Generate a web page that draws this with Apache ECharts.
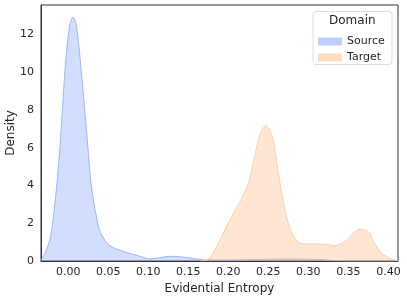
<!DOCTYPE html>
<html><head><meta charset="utf-8">
<script src="https://cdn.jsdelivr.net/npm/echarts@6/dist/echarts.min.js"></script>
<style>html,body{margin:0;padding:0;background:#fff}#c{width:407px;height:299px}</style>
</head><body><div id="c"></div>
<script>
const sourceX = [-0.034, -0.029, -0.023, -0.019, -0.0148, -0.0106, -0.0065, -0.003, 0.002, 0.006, 0.010, 0.015, 0.0228, 0.028, 0.0325, 0.035, 0.039, 0.0456, 0.052, 0.064, 0.081, 0.089, 0.102, 0.115, 0.127, 0.14, 0.152, 0.171, 0.2, 0.264, 0.314, 0.34, 0.41];
const sourceY = [0.05, 0.41, 1.11, 2.17, 3.76, 5.87, 8.5, 10.63, 12.5, 12.9, 12.5, 10.63, 6.93, 4.3, 2.95, 2.42, 1.64, 1.11, 0.81, 0.58, 0.35, 0.26, 0.12, 0.18, 0.25, 0.22, 0.16, 0.06, 0.05, 0.1, 0.08, 0.0, 0.0];
const targetX = [0.165, 0.173, 0.183, 0.1935, 0.204, 0.2165, 0.225, 0.231, 0.237, 0.242, 0.247, 0.252, 0.256, 0.262, 0.2685, 0.275, 0.283, 0.291, 0.30, 0.314, 0.325, 0.333, 0.348, 0.357, 0.364, 0.370, 0.375, 0.383, 0.392, 0.402, 0.412];
const targetY = [0, 0.05, 0.58, 1.47, 2.34, 3.3, 4.1, 5.17, 6.3, 6.95, 7.16, 6.9, 6.4, 4.8, 3.2, 2.0, 1.2, 0.93, 0.9, 0.9, 0.86, 0.81, 1.11, 1.5, 1.68, 1.65, 1.55, 0.93, 0.41, 0.14, 0.01];
const xTicks = [0.00, 0.05, 0.10, 0.15, 0.20, 0.25, 0.30, 0.35, 0.40];
const yTicks = [0, 2, 4, 6, 8, 10, 12];
const seriesNames = ['Source', 'Target'];
const legendTitle = 'Domain';

const FONT = 'DejaVu Sans';
const TXT = '#262626';
const fills = ['rgba(122,152,250,0.47)', 'rgba(253,180,118,0.47)'];
const lines = ['#9fb5fb', '#fdcfa4'];
const swatches = ['#c0cefd', '#fedcbf'];

const chart = echarts.init(document.getElementById('c'));
const mk = (xs, ys) => xs.map((x, i) => [x, ys[i]]);
chart.setOption({
  animation: false,
  grid: {left: 41, right: 9, top: 5, bottom: 38, show: true, borderColor: '#333', borderWidth: 1,
         containLabel: false, outerBoundsMode: 'none'},
  xAxis: {
    type: 'value', min: -0.034, max: 0.412,
    name: 'Evidential Entropy', nameLocation: 'middle', nameGap: 20,
    nameTextStyle: {fontFamily: FONT, fontSize: 12, color: TXT},
    axisLine: {show: true, onZero: false, lineStyle: {color: '#333'}},
    axisTick: {show: false},
    splitLine: {show: false},
    axisLabel: {customValues: xTicks, margin: 6, fontFamily: FONT, fontSize: 11, color: TXT,
      formatter: v => v.toFixed(2)}
  },
  yAxis: {
    type: 'value', min: 0, max: 13.55,
    name: 'Density', nameLocation: 'middle', nameGap: 24, nameMoveOverlap: false,
    nameTextStyle: {fontFamily: FONT, fontSize: 12, color: TXT},
    axisLine: {show: true, onZero: false, lineStyle: {color: '#333'}},
    axisTick: {show: false},
    splitLine: {show: false},
    axisLabel: {customValues: yTicks, margin: 7, fontFamily: FONT, fontSize: 11, color: TXT}
  },
  legend: {
    left: 313, top: 30, orient: 'vertical', itemWidth: 24, itemHeight: 8, itemGap: 3,
    icon: 'rect',
    textStyle: {fontFamily: FONT, fontSize: 11, color: TXT, lineHeight: 13},
    data: seriesNames.map((n, i) => ({name: n, itemStyle: {color: swatches[i]}}))
  },
  graphic: [
    {type: 'rect', left: 312.5, top: 11, shape: {width: 79, height: 53, r: 3},
     style: {fill: '#fff', stroke: '#dcdcdc', lineWidth: 1}, z: 0},
    {type: 'text', left: 329, top: 15, style: {text: legendTitle, font: '12px "DejaVu Sans"', fill: TXT}, z: 10}
  ],
  series: [
    {name: seriesNames[0], type: 'line', data: mk(sourceX, sourceY), smooth: 0.35,
     symbol: 'none', lineStyle: {color: lines[0], width: 1}, itemStyle: {color: swatches[0]},
     areaStyle: {color: fills[0]}, z: 2},
    {name: seriesNames[1], type: 'line', data: mk(targetX, targetY), smooth: 0.35,
     symbol: 'none', lineStyle: {color: lines[1], width: 1}, itemStyle: {color: swatches[1]},
     areaStyle: {color: fills[1]}, z: 3}
  ]
});
</script></body></html>
